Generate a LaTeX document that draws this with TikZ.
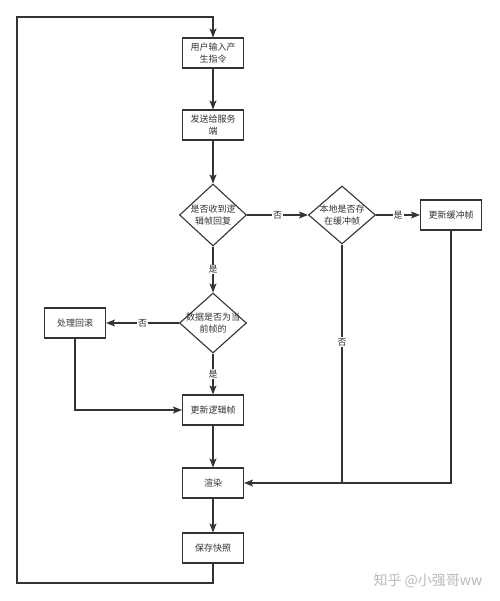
\documentclass[tikz,border=0pt]{standalone}
\usepackage{fontspec}
\setmainfont{Noto Sans CJK SC}
\usepackage{xcolor}
\usepackage{tikz}
\usetikzlibrary{shapes.geometric}
\usetikzlibrary{arrows.meta}
\definecolor{linegray}{HTML}{333333}
\tikzset{
    stepnode/.style = {rectangle, draw=linegray, line width=1.1pt, align=center, fill=white, text=linegray, minimum width=61pt, minimum height=30pt, inner sep=1pt, font=\fontsize{9}{12}\selectfont},
    asknode/.style = {diamond, draw=linegray, line width=1.1pt, fill=white, minimum width=67pt, minimum height=62pt, inner sep=0pt},
    asktext/.style = {align=center, text=linegray, inner sep=0pt, font=\fontsize{9}{12}\selectfont},
}
\begin{document}
\begin{tikzpicture}[
	x=1pt, y=-1pt,
	font=\fontsize{9}{12}\selectfont
]
\tikzset{
    edgen/.style = {-, line width=1.1pt, linegray},
    edgea/.style = {-{Stealth[length=9pt,width=7pt,inset=2pt]}, line width=1.1pt, linegray},
    lbl/.style = {fill=white, text=linegray, inner sep=1pt},
}
\useasboundingbox (0,0) rectangle (499,601);
\node[stepnode] at (213,53) (input) {用户输入产\\生指令};
\node[stepnode] at (213,125) (send) {发送给服务\\端};
\node[asknode] at (213,215) (recv) {};
\node[asktext] at (recv) {是否收到逻\\辑帧回复};
\node[asknode, minimum height=58pt] at (342,215) (local) {};
\node[asktext] at (local) {本地是否存\\在缓冲帧};
\node[stepnode] at (451,215) (buffer) {更新缓冲帧};
\node[asknode, minimum height=60pt] at (213,323) (curr) {};
\node[asktext] at (curr) {数据是否为当\\前帧的};
\node[stepnode] at (75,323) (rollback) {处理回滚};
\node[stepnode] at (213,410) (logic) {更新逻辑帧};
\node[stepnode] at (213,483) (render) {渲染};
\node[stepnode] at (213,548) (snap) {保存快照};
\coordinate (lb) at (17,583);
\coordinate (lt) at (17,17);
\node[text=gray!55, font=\fontsize{14}{14}\selectfont] at (428,581) (mark) {知乎 @小强哥ww};
%
\draw[edgea] (input) -- (send);
\draw[edgea] (send) -- (recv);
\draw[edgea] (recv) -- node[lbl] {否} (local);
\draw[edgea] (local) -- node[lbl] {是} (buffer);
%
\draw[edgea] (recv) -- node[lbl] {是} (curr);
\draw[edgea] (curr) -- node[lbl] {否} (rollback);
\draw[edgea] (curr) -- node[lbl] {是} (logic);
\draw[edgea] (rollback) |- (logic);
%
\draw[edgea] (logic) -- (render);
\draw[edgea] (render) -- (snap);
\draw[edgen] (local.south) -- node[lbl, pos=0.41] {否} (local.south |- render.east);
\draw[edgea] (buffer) |- (render);
%
\draw[edgea] (snap.south) |- (lb) -- (lt) -| (input.north);
\end{tikzpicture}
\end{document}
